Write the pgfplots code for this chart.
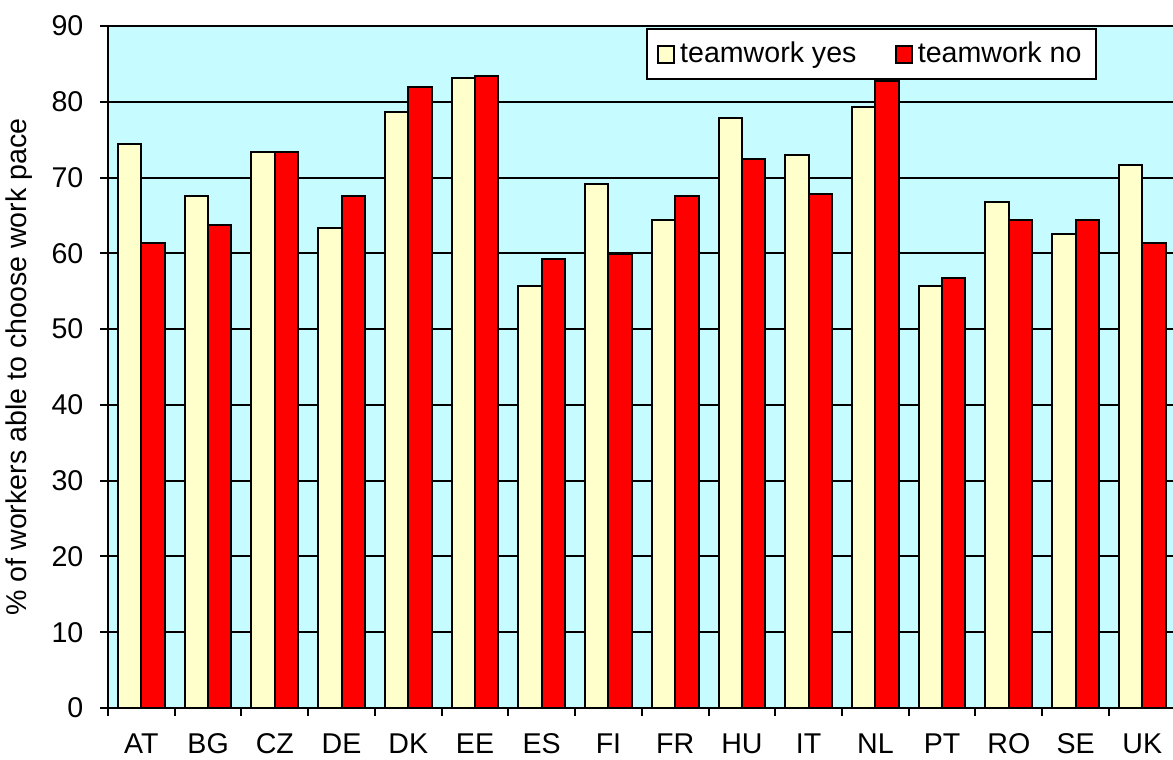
\documentclass[border=0pt]{standalone}
\usepackage{fontspec}
\setmainfont{Liberation Sans}
\usepackage{pgfplots}
\pgfplotsset{compat=1.18}
\usetikzlibrary{calc}
\definecolor{plotbg}{RGB}{198,252,255}
\definecolor{barcream}{RGB}{255,255,204}
\definecolor{barred}{RGB}{255,0,0}

\begin{document}
\fontsize{12.2}{14.5}\selectfont
\begin{tikzpicture}
\begin{axis}[
  name=ax,
  scale only axis,
  width=15.975cm, height=10.23cm,
  xmin=-0.5, xmax=15.46,
  ymin=0, ymax=90,
  ytick={0,10,...,90},
  ymajorgrids,
  grid style={black, line width=0.3mm},
  axis background/.style={fill=plotbg},
  axis x line*=bottom, axis y line*=left,
  axis line style={line width=0.3mm, -},
  ybar, bar width=0.35,
  xtick={0,...,15},
  xticklabels={AT,BG,CZ,DE,DK,EE,ES,FI,FR,HU,IT,NL,PT,RO,SE,UK},
  major x tick style={draw=none},
  minor xtick={-0.5,0.5,1.5,2.5,3.5,4.5,5.5,6.5,7.5,8.5,9.5,10.5,11.5,12.5,13.5,14.5},
  tick align=outside,
  major tick length=0.12cm, minor tick length=0.12cm,
  tick style={black, line width=0.3mm},
  xticklabel style={yshift=-0.2cm, inner ysep=1pt, text height=0.73em, text depth=0.02em},
  yticklabel style={xshift=-0.1cm},
  /pgf/number format/assume math mode=true,
  ylabel={\% of workers able to choose work pace},
  legend columns=2,
  legend style={at={(rel axis cs:0.505,0.997)}, anchor=north west,
    draw=black, line width=0.3mm, fill=white,
    inner xsep=0.15cm, inner ysep=0.12cm,
    /tikz/every even column/.style={column sep=0.5cm}},
  legend image code/.code={\draw[#1] (0cm,-0.13cm) rectangle (0.25cm,0.13cm);},
]
\addplot[fill=barcream, draw=black, line width=0.3mm, bar shift=-0.175]
  coordinates {(0,74.4) (1,67.5) (2,73.4) (3,63.3) (4,78.6) (5,83.1) (6,55.7) (7,69.2)
               (8,64.4) (9,77.8) (10,73.0) (11,79.3) (12,55.7) (13,66.8) (14,62.6) (15,71.6)};
\addlegendentry{teamwork yes}
\addplot[fill=barred, draw=black, line width=0.3mm, bar shift=0.175]
  coordinates {(0,61.3) (1,63.7) (2,73.4) (3,67.5) (4,82.0) (5,83.4) (6,59.2) (7,59.9)
               (8,67.5) (9,72.4) (10,67.8) (11,82.8) (12,56.8) (13,64.4) (14,64.4) (15,61.3)};
\addlegendentry{teamwork no}
\end{axis}
\pgfresetboundingbox
\path[use as bounding box] ($(ax.south west)+(-1.62cm,-0.78cm)$) rectangle ($(ax.north east)+(0,0.39cm)$);
\end{tikzpicture}
\end{document}
